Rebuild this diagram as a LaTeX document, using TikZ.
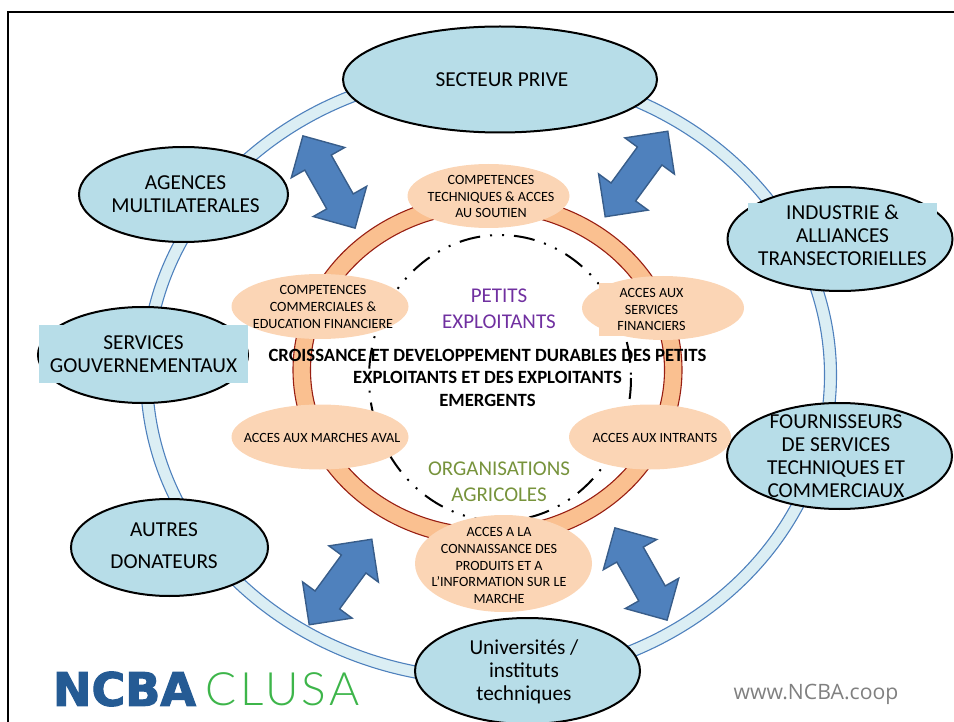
\documentclass[tikz,border=0pt]{standalone}
\usepackage{fontspec}
\setmainfont{Carlito}
\newfontfamily\urlfont{Open Sans}
\newfontfamily\ncbafont[FakeBold=2.5]{DejaVu Sans Bold}
\newfontfamily\clusafont[LetterSpace=7]{Lato Light}
\usepackage{xcolor}
\usetikzlibrary{shapes.geometric,shapes.arrows}
\definecolor{ballblue}{HTML}{B7DDE8}
\definecolor{ringblue}{HTML}{DBEEF4}
\definecolor{edgeblue}{HTML}{4F81BD}
\definecolor{arrowedge}{HTML}{385D8A}
\definecolor{ballpeach}{HTML}{FBD5B5}
\definecolor{ringpeach}{HTML}{FAC090}
\definecolor{ringred}{HTML}{981E12}
\definecolor{purpletxt}{HTML}{7030A0}
\definecolor{greentxt}{HTML}{77933C}
\definecolor{logoblue}{HTML}{255B94}
\definecolor{logogreen}{HTML}{3DB54A}

\begin{document}
\begin{tikzpicture}[x=1pt,y=-1pt,
 actor/.style={ellipse,draw=black,line width=2pt,fill=ballblue,inner sep=0pt},
 actortxt/.style={align=center,inner sep=0pt,font=\fontsize{21.3}{23}\selectfont},
 patch/.style={fill=#1,inner sep=0pt},
 acces/.style={ellipse,fill=ballpeach,inner sep=0pt},
 accestxt/.style={align=center,inner sep=0pt,font=\fontsize{14.1}{16.6}\selectfont},
 echange/.style={double arrow,draw=arrowedge,line width=1.4pt,fill=edgeblue,inner sep=0pt,
  text height=29pt,text depth=0pt,minimum height=106,double arrow head extend=15.5},
 theme/.style={align=center,inner sep=0pt,font=\fontsize{21}{26}\selectfont}]
 \clip (0,0) rectangle (954,722);

 % frame, rings
 \draw[line width=2.4pt] (8,722) -- (8,12) -- (954,12);
 \draw[draw=edgeblue,line width=1.1pt,fill=ringblue,even odd rule]
  (488.5,375) ellipse (348 and 310) (488.5,375) ellipse (336 and 298);
 \draw[draw=ringred,line width=1.1pt,fill=ringpeach,even odd rule]
  (487.5,370) ellipse (194.5 and 175.6) (487.5,370) ellipse (177 and 158);
 \draw[line width=2pt,dash pattern=on 21pt off 10pt on 2pt off 10pt on 2pt off 10pt]
  (500,378) ellipse (131 and 143);

 % double arrows
 \node[echange,rotate=-60.5] (aNW) at (329,182) {};
 \node[echange,rotate=53.8] (aNE) at (636.5,174) {};
 \node[echange,rotate=53.8] (aSW) at (340.5,582) {};
 \node[echange,rotate=-60.5] (aSE) at (641,574) {};

 % outer actors
 \node[actor,minimum width=314,minimum height=106] (prive) at (500,79.5) {};
 \node[actortxt] (priveT) at (502,80) {SECTEUR PRIVE};
 \node[actor,minimum width=209,minimum height=95] (agences) at (183.5,194.5) {};
 \node[actortxt] (agencesT) at (185.5,194) {AGENCES\\MULTILATERALES};
 \node[actor,minimum width=210,minimum height=96] (gouv) at (143,355) {};
 \node[patch=ballblue,minimum width=209,minimum height=58] (gouvP) at (143.5,354) {};
 \node[actortxt] (gouvT) at (143.5,354) {SERVICES\\GOUVERNEMENTAUX};
 \node[actor,minimum width=225,minimum height=104] (industrie) at (840,239) {};
 \node[patch=ballblue,minimum width=189,minimum height=59] (industrieP) at (842.5,232.5) {};
 \node[actortxt] (industrieT) at (842.5,235) {INDUSTRIE \&\\ALLIANCES\\TRANSECTORIELLES};
 \node[actor,minimum width=225,minimum height=106] (fourn) at (839.5,456) {};
 \node[actortxt] (fournT) at (836,456.5) {FOURNISSEURS\\DE SERVICES\\TECHNIQUES ET\\COMMERCIAUX};
 \node[actor,minimum width=197,minimum height=97] (autres) at (169.5,547.5) {};
 \node[actortxt,font=\fontsize{21.3}{32}\selectfont] (autresT) at (164,546) {AUTRES\\DONATEURS};
 \node[actor,minimum width=225,minimum height=106] (univ) at (527.5,671) {};
 \node[actortxt] (univT) at (524,672) {Universités /\\instituts\\techniques};

 % inner themes
 \node[acces,minimum width=162,minimum height=64] (soutien) at (488.5,196) {};
 \node[accestxt] (soutienT) at (491,196.5) {COMPETENCES\\TECHNIQUES \& ACCES\\AU SOUTIEN};
 \node[acces,minimum width=177,minimum height=65] (commerce) at (320,306.5) {};
 \node[accestxt] (commerceT) at (323,307) {COMPETENCES\\COMMERCIALES \&\\EDUCATION FINANCIERE};
 \node[acces,minimum width=162,minimum height=64] (finance) at (663,308) {};
 \node[patch=ballpeach,minimum width=104,minimum height=53] (financeP) at (651,309.5) {};
 \node[accestxt] (financeT) at (651.5,309.5) {ACCES AUX\\SERVICES\\FINANCIERS};
 \node[acces,minimum width=177,minimum height=65] (aval) at (320,437) {};
 \node[accestxt] (avalT) at (322,437.5) {ACCES AUX MARCHES AVAL};
 \node[acces,minimum width=162,minimum height=65] (intrants) at (650,437) {};
 \node[accestxt] (intrantsT) at (655,437.5) {ACCES AUX INTRANTS};
 \node[acces,minimum width=177,minimum height=97] (info) at (503.5,563.5) {};
 \node[accestxt] (infoT) at (499,565.5) {ACCES A LA\\CONNAISSANCE DES\\PRODUITS ET A\\L'INFORMATION SUR LE\\MARCHE};

 % centre
 \node[theme,text=purpletxt] (petits) at (499,308.5) {PETITS\\EXPLOITANTS};
 \node[theme,text=greentxt] (orga) at (499,481.5) {ORGANISATIONS\\AGRICOLES};
 \node[align=center,inner sep=0pt,font=\fontsize{18.7}{22.5}\selectfont\bfseries] (centre) at (487.5,377.5)
  {CROISSANCE ET DEVELOPPEMENT DURABLES DES PETITS\\EXPLOITANTS ET DES EXPLOITANTS\\EMERGENTS};

 % logo, web
 \node[inner sep=0pt,text=logoblue,font=\ncbafont\fontsize{46}{46}\selectfont] (ncba) at (124.5,689) {NCBA};
 \node[inner sep=0pt,text=logogreen,font=\clusafont\fontsize{46}{46}\selectfont] (clusa) at (282.5,689) {CLUSA};
 \node[inner sep=0pt,text=black!50,font=\urlfont\fontsize{21.2}{21.2}\selectfont] (web) at (816,694) {www.NCBA.coop};
\end{tikzpicture}
\end{document}
